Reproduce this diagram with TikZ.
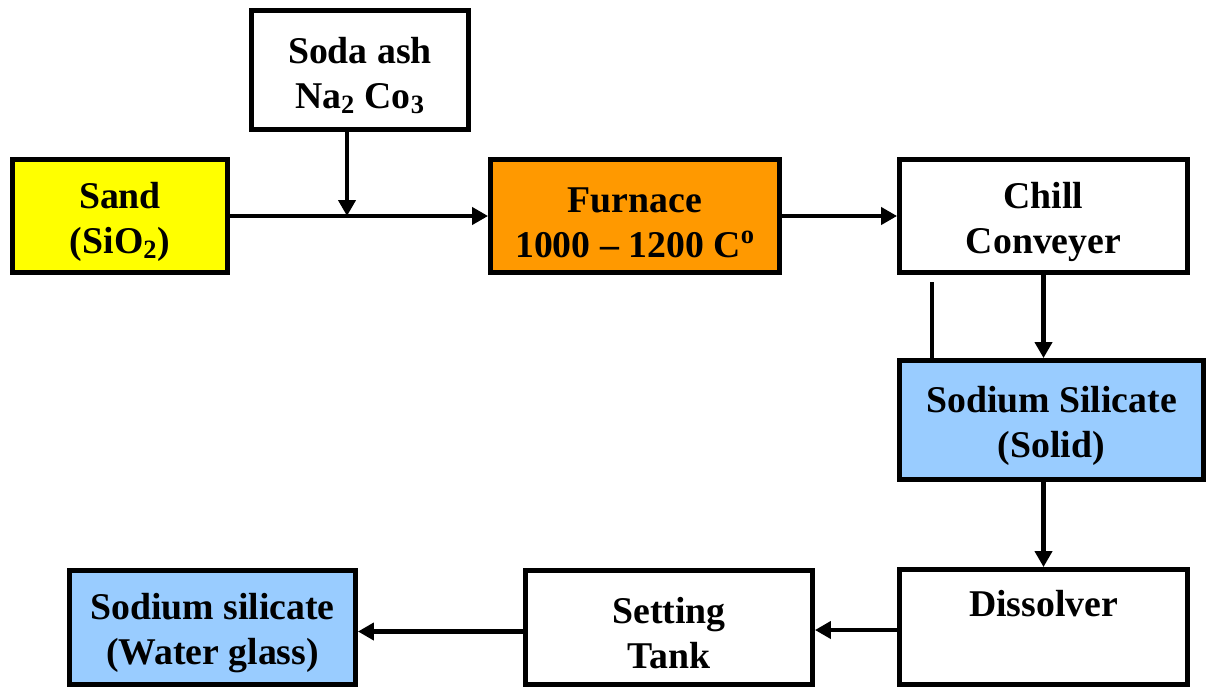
\documentclass[tikz,border=0pt]{standalone}
\usepackage{fontspec}
\setmainfont{Liberation Serif}
\usepackage{tikz}
\usetikzlibrary{arrows.meta, positioning, calc}
\definecolor{SandYellow}{HTML}{FFFF00}
\definecolor{FurnaceOrange}{HTML}{FF9900}
\definecolor{GlassBlue}{HTML}{99CCFF}
\newcommand{\toplift}{\rule{0pt}{0.75cm}}

\begin{document}
\begin{tikzpicture}[x=0.02cm, y=-0.02cm,
    box/.style={rectangle, draw=black, line width=2.8pt, fill=white,
                font=\fontsize{21.5}{25.6}\selectfont\bfseries, align=center,
                inner sep=0pt},
    flow/.style={line width=2.3pt, -{Triangle[length=0.32cm, width=0.34cm]}}]
    \useasboundingbox (0,0) rectangle (1206,687);

    % Top row
    \node[box, minimum width=4.34cm, minimum height=2.38cm] (soda) at (360,70)
        {\toplift Soda ash\\Na\textsubscript{2} Co\textsubscript{3}};
    \node[box, fill=SandYellow, minimum width=4.3cm, minimum height=2.26cm] (sand) at (120,216)
        {\toplift Sand\\(SiO\textsubscript{2})};
    \node[box, fill=FurnaceOrange, minimum width=5.78cm, minimum height=2.26cm] (furnace) at (635,216)
        {\toplift Furnace\\1000 -- 1200 C\textsuperscript{o}};
    \node[box, minimum width=5.76cm, minimum height=2.26cm] (chill) at (1043.5,216)
        {\toplift Chill\\Conveyer};

    % Right column and bottom row
    \node[box, fill=GlassBlue, minimum width=6.08cm, minimum height=2.38cm] (solid) at (1051.5,420)
        {\toplift Sodium Silicate\\(Solid)};
    \node[box, minimum width=5.76cm, minimum height=2.3cm] (dissolver) at (1043.5,627)
        {\toplift Dissolver\\\strut};
    \node[box, minimum width=5.74cm, minimum height=2.28cm] (setting) at (669,627.5)
        {\toplift Setting\\Tank};
    \node[box, fill=GlassBlue, minimum width=5.72cm, minimum height=2.28cm] (water) at (212.5,627.5)
        {\toplift Sodium silicate\\(Water glass)};

    % Arrows
    \coordinate (mix) at (347,216);
    \coordinate (side) at (932,282);
    \draw[flow] (sand.east) -- (furnace.west);
    \draw[flow] (soda.south -| mix) -- (mix);
    \draw[flow] (furnace.east) -- (chill.west);
    \draw[flow] (chill.south) -- (chill.south |- solid.north);
    \draw[line width=2.3pt] (side) -- (side |- solid.north);
    \draw[flow] (solid.south -| dissolver.north) -- (dissolver.north);
    \draw[flow] ([yshift=-0.06cm]dissolver.west) -- ([yshift=-0.06cm]dissolver.west -| setting.east);
    \draw[flow] ([yshift=-0.08cm]setting.west) -- ([yshift=-0.08cm]setting.west -| water.east);
\end{tikzpicture}
\end{document}
